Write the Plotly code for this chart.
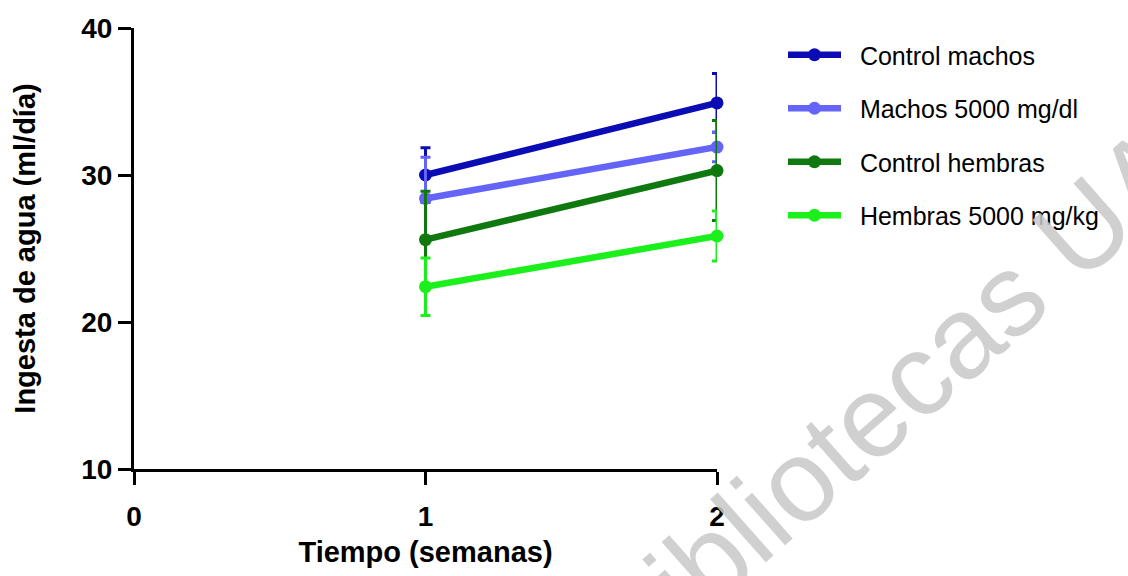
import plotly.graph_objects as go

# Data
semanas = [1, 2]
series_names = ["Control machos", "Machos 5000 mg/dl", "Control hembras", "Hembras 5000 mg/kg"]
control_machos = [30.0, 34.9]
control_machos_err = [1.85, 2.0]
machos_5000 = [28.4, 31.9]
machos_5000_err = [2.8, 1.0]
control_hembras = [25.6, 30.3]
control_hembras_err = [3.3, 3.4]
hembras_5000 = [22.4, 25.85]
hembras_5000_err = [1.95, 1.7]
colors = ["#0C0CB4", "#6464F8", "#0F780F", "#1CF01C"]

x_ticks = [0, 1, 2]
y_ticks = [10, 20, 30, 40]

values = [control_machos, machos_5000, control_hembras, hembras_5000]
errors = [control_machos_err, machos_5000_err, control_hembras_err, hembras_5000_err]

FONT = "Liberation Sans, Arial, sans-serif"
PAD = "\u00a0\u00a0"

fig = go.Figure()
for i, (name, y, e, c) in enumerate(zip(series_names, values, errors, colors)):
    fig.add_trace(go.Scatter(
        x=semanas, y=y, name=PAD + name, mode="lines+markers",
        line=dict(color=c, width=6.5),
        marker=dict(color=c, size=13),
        error_y=dict(type="data", array=e, visible=True, color=c, thickness=3, width=5),
        cliponaxis=False,
        legendgroup=f"g{i}",
    ))

fig.update_layout(
    width=1128, height=576,
    margin=dict(l=134, r=411, t=28, b=96),
    paper_bgcolor="white", plot_bgcolor="white",
    font=dict(family=FONT, color="black"),
    showlegend=True,
    legend=dict(
        xref="container", yref="container",
        x=783 / 1128, y=1 - 32 / 576, xanchor="left", yanchor="top",
        font=dict(family=FONT, size=25, color="black"),
        traceorder="grouped", tracegroupgap=18,
        itemwidth=53, bgcolor="rgba(0,0,0,0)",
    ),
    xaxis=dict(
        range=[0, 2], tickvals=x_ticks, ticktext=[str(v) for v in x_ticks],
        showline=True, linecolor="black", linewidth=3,
        ticks="outside", ticklen=13, tickwidth=3, tickcolor="black",
        showgrid=False, zeroline=False,
        tickfont=dict(family=FONT, size=28, color="black", weight="bold"),
        ticklabelstandoff=7,
        title=dict(text="<b>Tiempo (semanas)</b>", font=dict(family=FONT, size=29, color="black"), standoff=12),
    ),
    yaxis=dict(
        range=[10, 40], tickvals=y_ticks, ticktext=[str(v) for v in y_ticks],
        showline=True, linecolor="black", linewidth=3,
        ticks="outside", ticklen=13, tickwidth=3, tickcolor="black",
        showgrid=False, zeroline=False,
        tickfont=dict(family=FONT, size=28, color="black", weight="bold"),
        title=dict(text="<b>Ingesta de agua (ml/día)</b>", font=dict(family=FONT, size=29, color="black"), standoff=38),
    ),
)

fig.add_annotation(
    text="Bibliotecas UA", xref="paper", yref="paper",
    x=(890 - 134) / 583, y=(480 - 408) / 452,
    xanchor="center", yanchor="middle", showarrow=False,
    textangle=-41.5,
    font=dict(family=FONT, size=116, color="rgba(200,200,200,0.85)"),
)

fig.write_html("out.html")
